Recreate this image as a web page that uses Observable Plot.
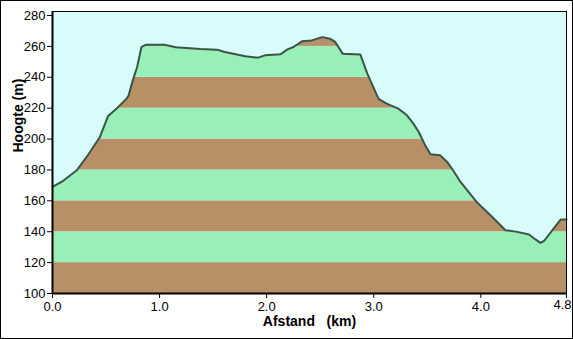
<!DOCTYPE html>
<html><head><meta charset="utf-8">
<script src="https://cdn.jsdelivr.net/npm/d3@7"></script>
<script src="https://cdn.jsdelivr.net/npm/@observablehq/plot@0.6"></script>
<style>
body{margin:0;background:#fff;}
#chart svg{display:block;outline:1px solid #000;outline-offset:-1px;}
#chart svg text{white-space:pre;}
</style></head><body><div id="chart"></div>
<script>
// distance along route (km) and elevation (m)
const dist = [0, 0.05, 0.1, 0.23, 0.33, 0.44, 0.52, 0.61, 0.69, 0.71, 0.75, 0.79, 0.83, 0.87, 1.05, 1.10, 1.15, 1.25, 1.38, 1.535, 1.61, 1.80, 1.92, 1.985, 2.13, 2.19, 2.25, 2.33, 2.42, 2.52, 2.59, 2.64, 2.71, 2.875, 2.94, 3.045, 3.12, 3.23, 3.31, 3.37, 3.42, 3.48, 3.53, 3.62, 3.685, 3.73, 3.81, 3.96, 4.09, 4.23, 4.34, 4.45, 4.51, 4.556, 4.59, 4.745, 4.8];
const elev = [169, 171, 173, 180, 189.5, 201, 215, 220.5, 226, 228, 238, 246.5, 259.5, 261, 261, 260.3, 259.5, 259, 258.3, 257.9, 256.4, 253.6, 252.7, 254.2, 254.9, 257.9, 259.6, 263.3, 263.9, 266, 265, 262.9, 255.3, 254.7, 242.4, 226, 223, 219.7, 215.4, 210, 204.6, 196, 190.2, 189.5, 185.2, 180.9, 172.2, 159.3, 150.7, 141, 139.9, 138.2, 135, 132.8, 134, 147.9, 147.9];

const xTicks = [0, 1, 2, 3, 4, 4.8];
const xEndTick = [4.8];
const yTicks = [100, 120, 140, 160, 180, 200, 220, 240, 260, 280];
const bandLows = [100, 120, 140, 160, 180, 200, 220, 240, 260];
const bandColors = ["#B89068", "#98F0B8", "#B89068", "#98F0B8", "#B89068", "#98F0B8", "#B89068", "#98F0B8", "#B89068"];
const xDomain = [0, 4.8];
const yDomain = [100, 282.6];
const skyColor = "#D8FCFC";
const lineColor = "#3A5548";

const profile = dist.map((d, i) => ({d, e: elev[i]}));
const bands = bandLows.map((lo, i) => ({lo, hi: lo + 20, color: bandColors[i]}));
const fmt = d3.format(".1f");

const plot = Plot.plot({
  width: 573, height: 339,
  marginLeft: 52, marginRight: 7, marginTop: 11, marginBottom: 46,
  style: {fontFamily: "'Liberation Sans', Arial, sans-serif", fontSize: "13px", color: "#000", background: "#fff"},
  x: {domain: xDomain},
  y: {domain: yDomain},
  color: {type: "identity"},
  marks: [
    Plot.rect(bands, {x1: () => xDomain[0], x2: () => xDomain[1], y1: "lo", y2: "hi", fill: "color"}),
    Plot.areaY(profile, {x: "d", y1: "e", y2: () => yDomain[1], fill: skyColor}),
    Plot.line(profile, {x: "d", y: "e", stroke: lineColor, strokeWidth: 2}),
    Plot.frame({stroke: "#000", strokeWidth: 1}),
    Plot.ruleX([xDomain[0]], {stroke: "#000", strokeWidth: 2}),
    Plot.ruleY([yDomain[0]], {stroke: "#000", strokeWidth: 2}),
    Plot.axisX({ticks: xTicks, tickFormat: d => xEndTick.includes(d) ? "" : fmt(d), tickSize: 5, tickPadding: 3, label: null, fontSize: 13}),
    Plot.text(xEndTick, {x: d => d, text: d => fmt(d), frameAnchor: "bottom", dy: 15, dx: -4, fontSize: 13, fill: "#000"}),
    Plot.axisY({ticks: yTicks, tickSize: 5, tickPadding: 2, label: null, fontSize: 13}),
    Plot.text(["Afstand   (km)"], {frameAnchor: "bottom", dy: 32, fontWeight: "bold", fontSize: 14, fill: "#000"}),
    Plot.text(["Hoogte (m)"], {frameAnchor: "left", dx: -34, rotate: -90, fontWeight: "bold", fontSize: 14, fill: "#000"})
  ]
});
document.getElementById("chart").appendChild(plot);
</script></body></html>
